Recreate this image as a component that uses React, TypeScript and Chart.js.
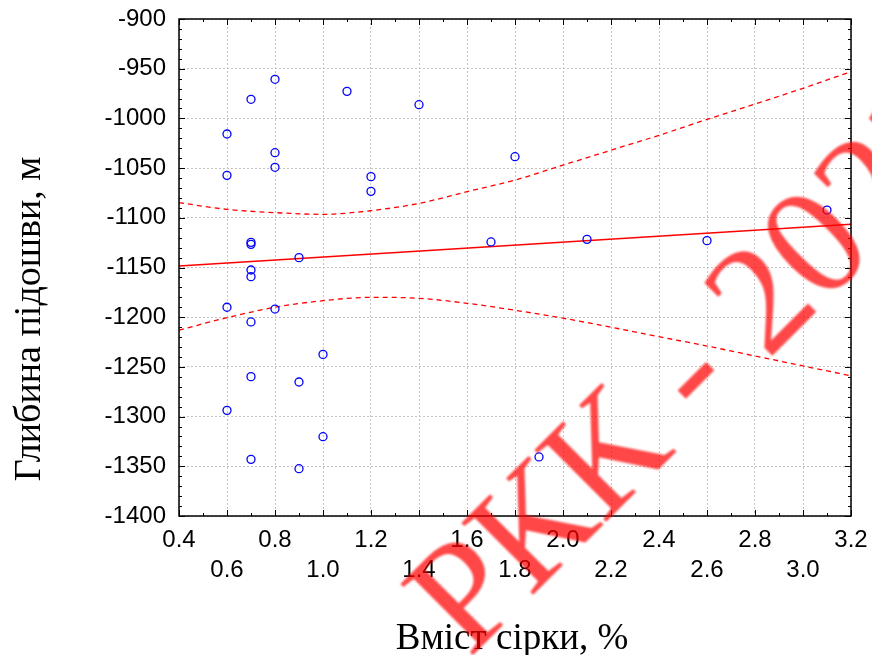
import React, { useEffect, useRef } from "react";
import { Chart, registerables } from "chart.js";

Chart.register(...registerables);

// ---- data ----
const X_TICKS = [0.4, 0.6, 0.8, 1.0, 1.2, 1.4, 1.6, 1.8, 2.0, 2.2, 2.4, 2.6, 2.8, 3.0, 3.2];
const Y_TICKS = [-1400, -1350, -1300, -1250, -1200, -1150, -1100, -1050, -1000, -950, -900];

const sulfur = [
  0.6, 0.6, 0.6, 0.6,
  0.7, 0.7, 0.7, 0.7, 0.7, 0.7, 0.7, 0.7,
  0.8, 0.8, 0.8, 0.8,
  0.9, 0.9, 0.9,
  1.0, 1.0,
  1.1,
  1.2, 1.2,
  1.4,
  1.7,
  1.8,
  1.9,
  2.1,
  2.6,
  3.1,
];
const depth = [
  -1015.7, -1057.3, -1190, -1293.7,
  -980.8, -1124.7, -1126.7, -1152.5, -1159.2, -1204.8, -1259.8, -1343,
  -960.7, -1034.5, -1049.2, -1191.8,
  -1140.1, -1265.2, -1352.4,
  -1237.4, -1320.2,
  -972.8,
  -1058.6, -1073.4,
  -986.2,
  -1124.3,
  -1038.5,
  -1340.6,
  -1121.7,
  -1123,
  -1092.2,
];

const fitX = [0.4, 3.2];
const fitY = [-1148.5, -1106.5];

const bandX = [0.4, 0.6, 0.8, 1.0, 1.2, 1.4, 1.6, 1.8, 2.0, 2.2, 2.4, 2.6, 2.8, 3.0, 3.2];
const bandUpper = [-1084.8, -1091.5, -1094.8, -1096.5, -1092.8, -1085.5, -1073.7, -1062, -1047, -1032, -1017, -1001, -985.5, -969.7, -953];
const bandLower = [-1213, -1200.5, -1190, -1183.4, -1180, -1181, -1186, -1193, -1201, -1210, -1219.6, -1229, -1239, -1249, -1259];

const X_TITLE = "Вміст сірки, %";
const Y_TITLE = "Глибина підошви, м";
const WATERMARK = "РКК - 2023";

const SANS = '"Liberation Sans", Arial, sans-serif';
const SERIF = '"Liberation Serif", "Times New Roman", serif';

const decorPlugin = {
  id: "decor",
  afterDatasetsDraw(chart: any) {
    const { ctx, chartArea, scales } = chart;
    const { left, right, top, bottom } = chartArea;
    const xs = scales.x;
    const ys = scales.y;
    ctx.save();
    ctx.strokeStyle = "#000";
    ctx.lineWidth = 1;
    for (let v = -1400; v <= -900; v += 10) {
      const py = Math.round(ys.getPixelForValue(v)) + 0.5;
      const len = v % 50 === 0 ? 6 : 3;
      ctx.beginPath();
      ctx.moveTo(left, py);
      ctx.lineTo(left + len, py);
      ctx.moveTo(right, py);
      ctx.lineTo(right - len, py);
      ctx.stroke();
    }
    for (let k = 4; k <= 32; k++) {
      const v = k / 10;
      const px = Math.round(xs.getPixelForValue(v)) + 0.5;
      const len = k % 2 === 0 ? 6 : 3;
      ctx.beginPath();
      ctx.moveTo(px, top);
      ctx.lineTo(px, top + len);
      ctx.moveTo(px, bottom);
      ctx.lineTo(px, bottom - len);
      ctx.stroke();
    }
    ctx.lineWidth = 1.5;
    ctx.strokeRect(left, top, right - left, bottom - top);
    ctx.restore();
  },
  afterDraw(chart: any) {
    const { ctx, chartArea } = chart;
    ctx.save();
    ctx.fillStyle = "#000";
    ctx.save();
    ctx.translate(40, 319);
    ctx.rotate(-Math.PI / 2);
    ctx.font = `38px ${SERIF}`;
    ctx.textAlign = "center";
    ctx.textBaseline = "alphabetic";
    ctx.fillText(Y_TITLE, 0, 0);
    ctx.restore();
    ctx.font = `37px ${SERIF}`;
    ctx.textAlign = "center";
    ctx.textBaseline = "alphabetic";
    ctx.fillText(X_TITLE, (chartArea.left + chartArea.right) / 2 - 3, 649);
    ctx.save();
    ctx.translate(469, 659);
    ctx.rotate(-Math.PI / 4);
    ctx.font = `155px ${SERIF}`;
    ctx.textAlign = "left";
    ctx.textBaseline = "alphabetic";
    ctx.fillStyle = "rgba(255,0,0,0.72)";
    (ctx as any).filter = "blur(1.3px)";
    ctx.fillText(WATERMARK, 0, 0);
    ctx.restore();
    ctx.restore();
  },
};

export default function App() {
  const ref = useRef<HTMLCanvasElement | null>(null);
  useEffect(() => {
    const canvas = ref.current;
    if (!canvas) return;
    const points = sulfur.map((x, i) => ({ x, y: depth[i] }));
    const fit = fitX.map((x, i) => ({ x, y: fitY[i] }));
    const up = bandX.map((x, i) => ({ x, y: bandUpper[i] }));
    const lo = bandX.map((x, i) => ({ x, y: bandLower[i] }));
    const chart = new Chart(canvas, {
      type: "scatter",
      data: {
        datasets: [
          {
            label: "Дані",
            data: points,
            pointRadius: 4,
            pointBorderWidth: 1.3,
            borderColor: "#0000ff",
            pointBorderColor: "#0000ff",
            backgroundColor: "rgba(0,0,0,0)",
            pointBackgroundColor: "rgba(0,0,0,0)",
            showLine: false,
          },
          {
            label: "Регресія",
            data: fit,
            showLine: true,
            borderColor: "#ff0000",
            borderWidth: 1.3,
            pointRadius: 0,
            fill: false,
          },
          {
            label: "Верхня межа",
            data: up,
            showLine: true,
            borderColor: "#ff0000",
            borderWidth: 1.3,
            borderDash: [5, 4],
            pointRadius: 0,
            cubicInterpolationMode: "monotone",
            fill: false,
          },
          {
            label: "Нижня межа",
            data: lo,
            showLine: true,
            borderColor: "#ff0000",
            borderWidth: 1.3,
            borderDash: [5, 4],
            pointRadius: 0,
            cubicInterpolationMode: "monotone",
            fill: false,
          },
        ],
      },
      options: {
        responsive: false,
        animation: false,
        layout: { padding: { left: 0, right: 21, top: 19, bottom: 0 } },
        plugins: { legend: { display: false }, tooltip: { enabled: false } },
        scales: {
          x: {
            type: "linear",
            min: 0.4,
            max: 3.2,
            afterBuildTicks: (s: any) => {
              s.ticks = X_TICKS.map((v) => ({ value: v }));
            },
            afterFit: (s: any) => {
              s.height = 139;
              s.paddingLeft = 0;
              s.paddingRight = 0;
              s.paddingTop = 0;
              s.paddingBottom = 0;
            },
            ticks: {
              autoSkip: false,
              maxRotation: 0,
              minRotation: 0,
              padding: 9,
              color: "#000",
              font: { family: SANS, size: 24, lineHeight: 1.25 },
              callback: (v: any, i: number) => {
                const t = Number(X_TICKS[i]).toFixed(1);
                return i % 2 === 0 ? [t, ""] : ["", t];
              },
            },
            grid: { color: "#c4c4c4", lineWidth: 1, drawTicks: false },
            border: { display: false, dash: [2, 2] },
          },
          y: {
            type: "linear",
            min: -1400,
            max: -900,
            afterBuildTicks: (s: any) => {
              s.ticks = Y_TICKS.map((v) => ({ value: v }));
            },
            afterFit: (s: any) => {
              s.width = 179;
              s.paddingLeft = 0;
              s.paddingRight = 0;
              s.paddingTop = 0;
              s.paddingBottom = 0;
            },
            ticks: {
              autoSkip: false,
              padding: 13,
              color: "#000",
              font: { family: SANS, size: 24 },
              callback: (v: any, i: number) => String(Y_TICKS[i]),
            },
            grid: { color: "#c4c4c4", lineWidth: 1, drawTicks: false },
            border: { display: false, dash: [2, 2] },
          },
        },
      },
      plugins: [decorPlugin],
    } as any);
    return () => chart.destroy();
  }, []);
  return (
    <div style={{ position: "fixed", left: 0, top: 0, width: 872, height: 655, background: "#fff" }}>
      <canvas ref={ref} width={872} height={655} style={{ display: "block" }} />
    </div>
  );
}
